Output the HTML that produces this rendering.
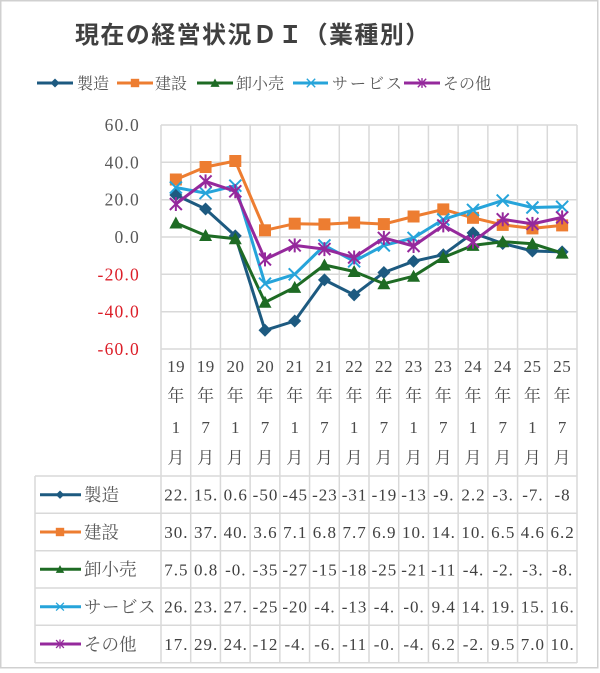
<!DOCTYPE html>
<html><head><meta charset="utf-8"><style>
html,body{margin:0;padding:0;background:#fff;}
svg{display:block;}
.s{font-family:"Liberation Serif","Noto Serif CJK SC",serif;}
</style></head><body>
<svg width="600" height="673" viewBox="0 0 600 673" xmlns="http://www.w3.org/2000/svg">
<defs>
<polygon id="dia" points="0,-6.5 6.5,0 0,6.5 -6.5,0" fill="#1D5A80"/>
<rect id="sq" x="-6" y="-6" width="12" height="12" fill="#ED7D31"/>
<polygon id="tri" points="0,-6.5 6.5,5.5 -6.5,5.5" fill="#1E6B24"/>
<g id="xx" stroke="#26A4DA" stroke-width="2"><line x1="-6" y1="-6" x2="6" y2="6"/><line x1="-6" y1="6" x2="6" y2="-6"/></g>
<g id="st" stroke="#95299C" stroke-width="2"><line x1="-6" y1="-6" x2="6" y2="6"/><line x1="-6" y1="6" x2="6" y2="-6"/><line x1="0" y1="-7" x2="0" y2="7"/></g>
</defs>
<rect x="0.75" y="0.75" width="597" height="667" fill="#fff" stroke="#d0d0d0" stroke-width="1.5"/>

<!-- title -->
<text x="75" y="43" font-family="'Liberation Sans','Noto Sans CJK JP',sans-serif" font-weight="bold" font-size="24" letter-spacing="1.4" fill="#404040">現在の経営状況ＤＩ（業種別）</text>

<!-- legend -->
<g class="s" font-size="16" fill="#595959">
<line x1="37" y1="83" x2="73" y2="83" stroke="#1D5A80" stroke-width="3"/><use href="#dia" transform="translate(55,83) scale(0.7)"/>
<text x="77" y="89">製造</text>
<line x1="117" y1="83" x2="153" y2="83" stroke="#ED7D31" stroke-width="3"/><use href="#sq" transform="translate(135,83) scale(0.7)"/>
<text x="155" y="89">建設</text>
<line x1="197" y1="83" x2="233" y2="83" stroke="#1E6B24" stroke-width="3"/><use href="#tri" transform="translate(215,83) scale(0.7)"/>
<text x="236" y="89">卸小売</text>
<line x1="293" y1="83" x2="328" y2="83" stroke="#26A4DA" stroke-width="3"/><use href="#xx" transform="translate(311,83) scale(0.7)"/>
<text x="332" y="89" letter-spacing="2">サービス</text>
<line x1="404" y1="83" x2="440" y2="83" stroke="#95299C" stroke-width="3"/><use href="#st" transform="translate(422,83) scale(0.7)"/>
<text x="443" y="89">その他</text>
</g>

<!-- grid -->
<g stroke="#d9d9d9" stroke-width="1.5" fill="none">
<line x1="161" y1="125" x2="577" y2="125"/>
<line x1="161" y1="162.3" x2="577" y2="162.3"/>
<line x1="161" y1="199.7" x2="577" y2="199.7"/>
<line x1="161" y1="237" x2="577" y2="237"/>
<line x1="161" y1="274.3" x2="577" y2="274.3"/>
<line x1="161" y1="311.7" x2="577" y2="311.7"/>
<line x1="161" y1="349" x2="577" y2="349"/>
<line x1="161" y1="125" x2="161" y2="663"/>
<line x1="190.71" y1="125" x2="190.71" y2="663"/>
<line x1="220.43" y1="125" x2="220.43" y2="663"/>
<line x1="250.14" y1="125" x2="250.14" y2="663"/>
<line x1="279.86" y1="125" x2="279.86" y2="663"/>
<line x1="309.57" y1="125" x2="309.57" y2="663"/>
<line x1="339.29" y1="125" x2="339.29" y2="663"/>
<line x1="369" y1="125" x2="369" y2="663"/>
<line x1="398.71" y1="125" x2="398.71" y2="663"/>
<line x1="428.43" y1="125" x2="428.43" y2="663"/>
<line x1="458.14" y1="125" x2="458.14" y2="663"/>
<line x1="487.86" y1="125" x2="487.86" y2="663"/>
<line x1="517.57" y1="125" x2="517.57" y2="663"/>
<line x1="547.29" y1="125" x2="547.29" y2="663"/>
<line x1="577" y1="125" x2="577" y2="663"/>
<line x1="35" y1="476" x2="577" y2="476"/>
<line x1="35" y1="513.3" x2="577" y2="513.3"/>
<line x1="35" y1="550.7" x2="577" y2="550.7"/>
<line x1="35" y1="588" x2="577" y2="588"/>
<line x1="35" y1="625.3" x2="577" y2="625.3"/>
<line x1="35" y1="662.7" x2="577" y2="662.7"/>
<line x1="35" y1="476" x2="35" y2="663"/>
</g>

<!-- y labels -->
<g class="s" font-size="17.5" letter-spacing="1.2" text-anchor="end">
<text x="140" y="131" fill="#595959">60.0</text>
<text x="140" y="168.3" fill="#595959">40.0</text>
<text x="140" y="205.7" fill="#595959">20.0</text>
<text x="140" y="243" fill="#595959">0.0</text>
<text x="140" y="280.3" fill="#DC1E28">-20.0</text>
<text x="140" y="317.7" fill="#DC1E28">-40.0</text>
<text x="140" y="355" fill="#DC1E28">-60.0</text>
</g>

<!-- x labels -->
<g class="s" font-size="17" fill="#4a4a4a" text-anchor="middle">
<g letter-spacing="0.5">
<text x="176.1" y="372">19</text><text x="205.8" y="372">19</text><text x="235.5" y="372">20</text><text x="265.2" y="372">20</text><text x="294.9" y="372">21</text><text x="324.6" y="372">21</text><text x="354.3" y="372">22</text><text x="384" y="372">22</text><text x="413.7" y="372">23</text><text x="443.4" y="372">23</text><text x="473.1" y="372">24</text><text x="502.8" y="372">24</text><text x="532.5" y="372">25</text><text x="562.2" y="372">25</text>
</g>
<text x="175.86" y="401.5">年</text><text x="205.57" y="401.5">年</text><text x="235.29" y="401.5">年</text><text x="265" y="401.5">年</text><text x="294.71" y="401.5">年</text><text x="324.43" y="401.5">年</text><text x="354.14" y="401.5">年</text><text x="383.86" y="401.5">年</text><text x="413.57" y="401.5">年</text><text x="443.29" y="401.5">年</text><text x="473" y="401.5">年</text><text x="502.71" y="401.5">年</text><text x="532.43" y="401.5">年</text><text x="562.14" y="401.5">年</text>
<text x="175.86" y="433">1</text><text x="205.57" y="433">7</text><text x="235.29" y="433">1</text><text x="265" y="433">7</text><text x="294.71" y="433">1</text><text x="324.43" y="433">7</text><text x="354.14" y="433">1</text><text x="383.86" y="433">7</text><text x="413.57" y="433">1</text><text x="443.29" y="433">7</text><text x="473" y="433">1</text><text x="502.71" y="433">7</text><text x="532.43" y="433">1</text><text x="562.14" y="433">7</text>
<text x="175.86" y="463.5">月</text><text x="205.57" y="463.5">月</text><text x="235.29" y="463.5">月</text><text x="265" y="463.5">月</text><text x="294.71" y="463.5">月</text><text x="324.43" y="463.5">月</text><text x="354.14" y="463.5">月</text><text x="383.86" y="463.5">月</text><text x="413.57" y="463.5">月</text><text x="443.29" y="463.5">月</text><text x="473" y="463.5">月</text><text x="502.71" y="463.5">月</text><text x="532.43" y="463.5">月</text><text x="562.14" y="463.5">月</text>
</g>

<!-- series -->
<polyline fill="none" stroke-width="3" stroke-linejoin="round" stroke="#1D5A80" points="175.86,195 205.57,209 235.29,235.9 265,330.3 294.71,321 324.43,279.9 354.14,294.9 383.86,272.5 413.57,261.3 443.29,254.7 473,232.9 502.71,243.5 532.43,251 562.14,251.9"/>
<g>
<use href="#dia" x="175.86" y="195"/><use href="#dia" x="205.57" y="209"/><use href="#dia" x="235.29" y="235.9"/><use href="#dia" x="265" y="330.3"/><use href="#dia" x="294.71" y="321"/><use href="#dia" x="324.43" y="279.9"/><use href="#dia" x="354.14" y="294.9"/><use href="#dia" x="383.86" y="272.5"/><use href="#dia" x="413.57" y="261.3"/><use href="#dia" x="443.29" y="254.7"/><use href="#dia" x="473" y="232.9"/><use href="#dia" x="502.71" y="243.5"/><use href="#dia" x="532.43" y="251"/><use href="#dia" x="562.14" y="251.9"/>
</g>
<polyline fill="none" stroke-width="3" stroke-linejoin="round" stroke="#ED7D31" points="175.86,179.5 205.57,167 235.29,161 265,230.3 294.71,223.7 324.43,224.3 354.14,222.6 383.86,224.1 413.57,216.5 443.29,209.4 473,217.8 502.71,224.9 532.43,228.4 562.14,225.4"/>
<g>
<use href="#sq" x="175.86" y="179.5"/><use href="#sq" x="205.57" y="167"/><use href="#sq" x="235.29" y="161"/><use href="#sq" x="265" y="230.3"/><use href="#sq" x="294.71" y="223.7"/><use href="#sq" x="324.43" y="224.3"/><use href="#sq" x="354.14" y="222.6"/><use href="#sq" x="383.86" y="224.1"/><use href="#sq" x="413.57" y="216.5"/><use href="#sq" x="443.29" y="209.4"/><use href="#sq" x="473" y="217.8"/><use href="#sq" x="502.71" y="224.9"/><use href="#sq" x="532.43" y="228.4"/><use href="#sq" x="562.14" y="225.4"/>
</g>
<polyline fill="none" stroke-width="3" stroke-linejoin="round" stroke="#1E6B24" points="175.86,223 205.57,235.5 235.29,238.7 265,302.3 294.71,287.4 324.43,265 354.14,271.5 383.86,283.7 413.57,276.2 443.29,257.5 473,245.4 502.71,241.7 532.43,243.7 562.14,253.1"/>
<g>
<use href="#tri" x="175.86" y="223"/><use href="#tri" x="205.57" y="235.5"/><use href="#tri" x="235.29" y="238.7"/><use href="#tri" x="265" y="302.3"/><use href="#tri" x="294.71" y="287.4"/><use href="#tri" x="324.43" y="265"/><use href="#tri" x="354.14" y="271.5"/><use href="#tri" x="383.86" y="283.7"/><use href="#tri" x="413.57" y="276.2"/><use href="#tri" x="443.29" y="257.5"/><use href="#tri" x="473" y="245.4"/><use href="#tri" x="502.71" y="241.7"/><use href="#tri" x="532.43" y="243.7"/><use href="#tri" x="562.14" y="253.1"/>
</g>
<polyline fill="none" stroke-width="3" stroke-linejoin="round" stroke="#26A4DA" points="175.86,187.5 205.57,193.1 235.29,185.7 265,283.7 294.71,274.3 324.43,245.4 354.14,261.3 383.86,245.4 413.57,237.9 443.29,219.5 473,209.9 502.71,200.6 532.43,207.5 562.14,206.8"/>
<g>
<use href="#xx" x="175.86" y="187.5"/><use href="#xx" x="205.57" y="193.1"/><use href="#xx" x="235.29" y="185.7"/><use href="#xx" x="265" y="283.7"/><use href="#xx" x="294.71" y="274.3"/><use href="#xx" x="324.43" y="245.4"/><use href="#xx" x="354.14" y="261.3"/><use href="#xx" x="383.86" y="245.4"/><use href="#xx" x="413.57" y="237.9"/><use href="#xx" x="443.29" y="219.5"/><use href="#xx" x="473" y="209.9"/><use href="#xx" x="502.71" y="200.6"/><use href="#xx" x="532.43" y="207.5"/><use href="#xx" x="562.14" y="206.8"/>
</g>
<polyline fill="none" stroke-width="3" stroke-linejoin="round" stroke="#95299C" points="175.86,204 205.57,181.4 235.29,191.3 265,259.4 294.71,245.4 324.43,249.1 354.14,257.5 383.86,237.9 413.57,246 443.29,225.4 473,241.7 502.71,219.3 532.43,223.9 562.14,217.4"/>
<g>
<use href="#st" x="175.86" y="204"/><use href="#st" x="205.57" y="181.4"/><use href="#st" x="235.29" y="191.3"/><use href="#st" x="265" y="259.4"/><use href="#st" x="294.71" y="245.4"/><use href="#st" x="324.43" y="249.1"/><use href="#st" x="354.14" y="257.5"/><use href="#st" x="383.86" y="237.9"/><use href="#st" x="413.57" y="246"/><use href="#st" x="443.29" y="225.4"/><use href="#st" x="473" y="241.7"/><use href="#st" x="502.71" y="219.3"/><use href="#st" x="532.43" y="223.9"/><use href="#st" x="562.14" y="217.4"/>
</g>

<!-- table legend keys -->
<g class="s" font-size="17.5" fill="#595959">
<line x1="40" y1="494.7" x2="81" y2="494.7" stroke="#1D5A80" stroke-width="3"/><use href="#dia" transform="translate(60,494.7) scale(0.65)"/>
<text x="84" y="501">製造</text>
<line x1="40" y1="532" x2="81" y2="532" stroke="#ED7D31" stroke-width="3"/><use href="#sq" transform="translate(60,532) scale(0.7)"/>
<text x="84" y="538.3">建設</text>
<line x1="40" y1="569.3" x2="81" y2="569.3" stroke="#1E6B24" stroke-width="3"/><use href="#tri" transform="translate(60,569.3) scale(0.65)"/>
<text x="84" y="575.6">卸小売</text>
<line x1="40" y1="606.7" x2="81" y2="606.7" stroke="#26A4DA" stroke-width="3"/><use href="#xx" transform="translate(60,606.7) scale(0.65)"/>
<text x="84" y="613" letter-spacing="0.5">サービス</text>
<line x1="40" y1="644" x2="81" y2="644" stroke="#95299C" stroke-width="3"/><use href="#st" transform="translate(60,644) scale(0.65)"/>
<text x="84" y="650.3">その他</text>
</g>

<!-- table values -->
<g class="s" font-size="17" letter-spacing="1" fill="#404040" text-anchor="middle">
<g transform="translate(0,500.7)">
<text x="176.4" y="0">22.</text><text x="206.1" y="0">15.</text><text x="235.8" y="0">0.6</text><text x="265.5" y="0">-50</text><text x="295.2" y="0">-45</text><text x="324.9" y="0">-23</text><text x="354.6" y="0">-31</text><text x="384.4" y="0">-19</text><text x="414.1" y="0">-13</text><text x="443.8" y="0">-9.</text><text x="473.5" y="0">2.2</text><text x="503.2" y="0">-3.</text><text x="532.9" y="0">-7.</text><text x="562.6" y="0">-8</text>
</g>
<g transform="translate(0,538)">
<text x="176.4" y="0">30.</text><text x="206.1" y="0">37.</text><text x="235.8" y="0">40.</text><text x="265.5" y="0">3.6</text><text x="295.2" y="0">7.1</text><text x="324.9" y="0">6.8</text><text x="354.6" y="0">7.7</text><text x="384.4" y="0">6.9</text><text x="414.1" y="0">10.</text><text x="443.8" y="0">14.</text><text x="473.5" y="0">10.</text><text x="503.2" y="0">6.5</text><text x="532.9" y="0">4.6</text><text x="562.6" y="0">6.2</text>
</g>
<g transform="translate(0,575.3)">
<text x="176.4" y="0">7.5</text><text x="206.1" y="0">0.8</text><text x="235.8" y="0">-0.</text><text x="265.5" y="0">-35</text><text x="295.2" y="0">-27</text><text x="324.9" y="0">-15</text><text x="354.6" y="0">-18</text><text x="384.4" y="0">-25</text><text x="414.1" y="0">-21</text><text x="443.8" y="0">-11</text><text x="473.5" y="0">-4.</text><text x="503.2" y="0">-2.</text><text x="532.9" y="0">-3.</text><text x="562.6" y="0">-8.</text>
</g>
<g transform="translate(0,612.7)">
<text x="176.4" y="0">26.</text><text x="206.1" y="0">23.</text><text x="235.8" y="0">27.</text><text x="265.5" y="0">-25</text><text x="295.2" y="0">-20</text><text x="324.9" y="0">-4.</text><text x="354.6" y="0">-13</text><text x="384.4" y="0">-4.</text><text x="414.1" y="0">-0.</text><text x="443.8" y="0">9.4</text><text x="473.5" y="0">14.</text><text x="503.2" y="0">19.</text><text x="532.9" y="0">15.</text><text x="562.6" y="0">16.</text>
</g>
<g transform="translate(0,650)">
<text x="176.4" y="0">17.</text><text x="206.1" y="0">29.</text><text x="235.8" y="0">24.</text><text x="265.5" y="0">-12</text><text x="295.2" y="0">-4.</text><text x="324.9" y="0">-6.</text><text x="354.6" y="0">-11</text><text x="384.4" y="0">-0.</text><text x="414.1" y="0">-4.</text><text x="443.8" y="0">6.2</text><text x="473.5" y="0">-2.</text><text x="503.2" y="0">9.5</text><text x="532.9" y="0">7.0</text><text x="562.6" y="0">10.</text>
</g>
</g>
</svg>
</body></html>
